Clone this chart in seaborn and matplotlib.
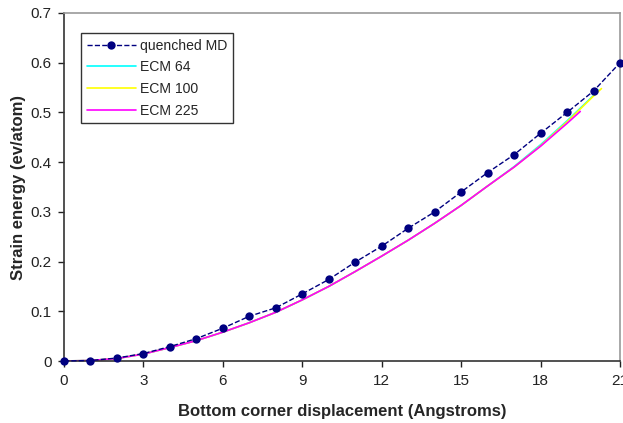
import numpy as np
import pandas as pd
import matplotlib
matplotlib.use("Agg")
import matplotlib.pyplot as plt
import seaborn as sns

# ======================
# Data
# ======================
md_x = list(range(0, 22))
md_y = [0.0, 0.001, 0.006, 0.015, 0.029, 0.045, 0.066, 0.090, 0.107, 0.135,
        0.164, 0.199, 0.231, 0.267, 0.300, 0.340, 0.379, 0.415, 0.458, 0.500,
        0.543, 0.600]

ecm64_x = [0, 1, 2, 3, 4, 5, 6, 7, 8, 9, 10, 11, 12, 13, 14, 15, 16, 17, 18, 19, 20, 20.2]
ecm64_y = [0.0, 0.001, 0.005, 0.014, 0.027, 0.041, 0.058, 0.077, 0.098, 0.123,
           0.150, 0.180, 0.211, 0.243, 0.277, 0.313, 0.352, 0.391, 0.435, 0.483,
           0.534, 0.545]

ecm100_x = [0, 1, 2, 3, 4, 5, 6, 7, 8, 9, 10, 11, 12, 13, 14, 15, 16, 17, 18, 19, 20, 20.3]
ecm100_y = [0.0, 0.001, 0.005, 0.014, 0.027, 0.041, 0.058, 0.077, 0.098, 0.123,
            0.150, 0.180, 0.211, 0.243, 0.277, 0.313, 0.352, 0.390, 0.433, 0.481,
            0.533, 0.548]

ecm225_x = [0, 1, 2, 3, 4, 5, 6, 7, 8, 9, 10, 11, 12, 13, 14, 15, 16, 17, 18, 19, 19.5]
ecm225_y = [0.0, 0.001, 0.005, 0.014, 0.027, 0.041, 0.058, 0.077, 0.098, 0.123,
            0.150, 0.180, 0.211, 0.243, 0.277, 0.313, 0.352, 0.390, 0.432, 0.478,
            0.502]

x_ticks = [0, 3, 6, 9, 12, 15, 18, 21]
y_ticks = [0, 0.1, 0.2, 0.3, 0.4, 0.5, 0.6, 0.7]
y_tick_labels = ["0", "0.1", "0.2", "0.3", "0.4", "0.5", "0.6", "0.7"]

# ======================
# Plot
# ======================
sns.set_style("white")
plt.rcParams["font.family"] = ["Liberation Sans", "DejaVu Sans"]

fig = plt.figure(figsize=(6.23, 4.23), dpi=100)
ax = fig.add_axes([64 / 623, 62 / 423, 556 / 623, 348 / 423])

sns.lineplot(x=ecm64_x, y=ecm64_y, color="#00FFFF", lw=1.2, ax=ax, label="ECM 64")
sns.lineplot(x=ecm100_x, y=ecm100_y, color="#FFFF00", lw=1.2, ax=ax, label="ECM 100")
sns.lineplot(x=ecm225_x, y=ecm225_y, color="#FF00FF", lw=1.2, ax=ax, label="ECM 225")
sns.lineplot(x=md_x, y=md_y, color="#000080", lw=1.0, ax=ax, label="quenched MD",
             marker="o", markersize=6, markeredgewidth=0, dashes=(4, 4), linestyle="--",
             zorder=5, clip_on=False)

ax.set_xlim(0, 21)
ax.set_ylim(0, 0.7)
ax.set_xticks(x_ticks)
ax.set_xticklabels([str(t) for t in x_ticks])
ax.set_yticks(y_ticks)
ax.set_yticklabels(y_tick_labels)
ax.tick_params(axis="both", direction="out", length=4, width=1, labelsize=11,
               colors="#222222", bottom=True, left=True, pad=5)

for side in ["left", "bottom"]:
    ax.spines[side].set_color("#333333")
    ax.spines[side].set_linewidth(1.2)
for side in ["top", "right"]:
    ax.spines[side].set_color("#999999")
    ax.spines[side].set_linewidth(1.2)

ax.set_xlabel("Bottom corner displacement (Angstroms)", fontsize=12, weight="bold", labelpad=12)
ax.set_ylabel("Strain energy (ev/atom)", fontsize=12, weight="bold", labelpad=3)

handles, labels = ax.get_legend_handles_labels()
order = [labels.index(l) for l in ["quenched MD", "ECM 64", "ECM 100", "ECM 225"]]
leg = ax.legend([handles[i] for i in order], [labels[i] for i in order],
                loc="upper left", bbox_to_anchor=(17 / 556, 1 - 20 / 348),
                borderaxespad=0, frameon=True, fancybox=False, edgecolor="black",
                fontsize=10.1, handlelength=3.5, borderpad=0.4, labelspacing=0.55,
                handletextpad=0.3)
leg.get_frame().set_linewidth(1.0)

fig.savefig("out.png", dpi=100)
